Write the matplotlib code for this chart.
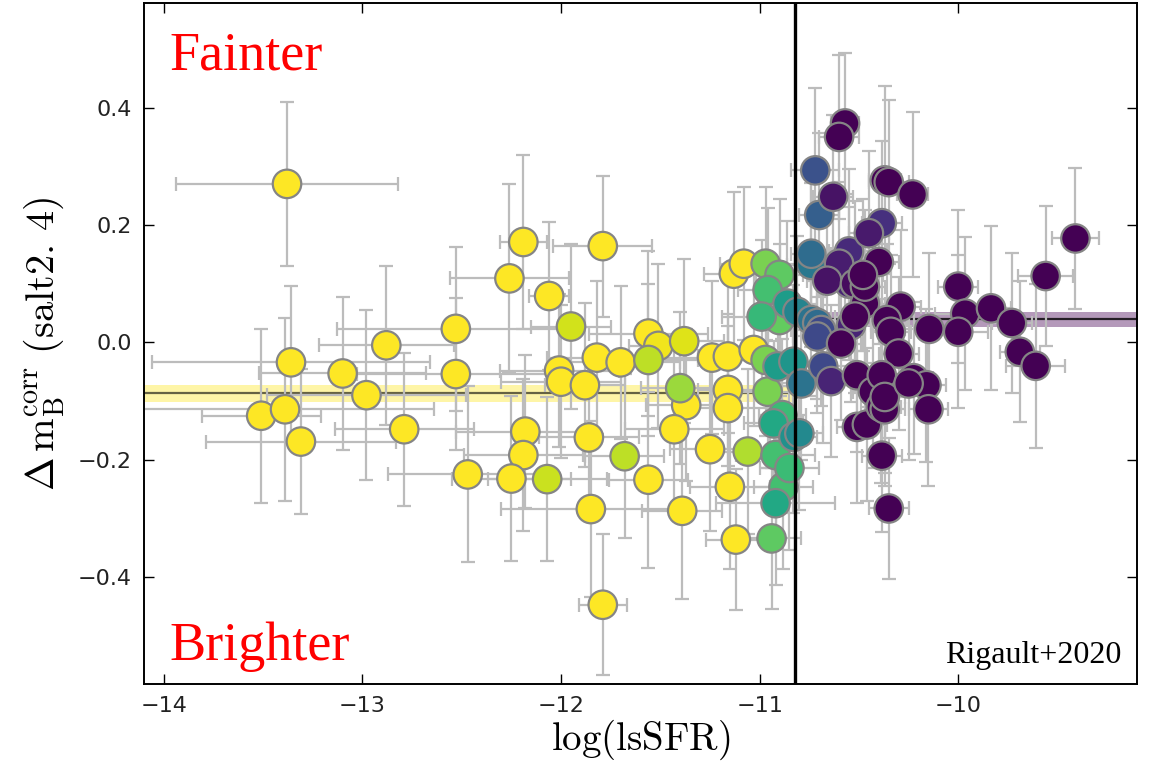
import numpy as np
import matplotlib
matplotlib.use("Agg")
import matplotlib.pyplot as plt

# ---- data ----
lssfr = [-13.38, -13.36, -13.10, -12.88, -12.98, -13.51, -13.39, -13.31, -12.79, -12.19,
         -11.79, -12.26, -12.06, -12.53, -12.53, -11.95, -12.01, -12.00, -11.88, -11.82,
         -11.70, -11.56, -11.51, -11.56, -11.38, -11.24, -11.16, -11.40, -11.37, -11.43,
         -11.25, -11.16, -11.16, -12.18, -12.19, -11.86, -11.68, -12.47, -12.25, -12.07,
         -11.56, -11.85, -11.39, -11.79, -11.15, -11.12, -11.13, -11.08, -11.03, -11.06,
         # transition
         -10.97, -10.90, -10.96, -10.99, -10.90, -10.86, -10.81, -10.74, -10.74, -10.74,
         -10.72, -10.70, -10.69, -10.97, -10.91, -10.83, -10.79, -10.68, -10.64, -10.71,
         -10.71, -10.96, -10.93, -10.885, -10.83, -10.80, -10.92, -10.85, -10.88, -10.92,
         -10.94,
         # young
         -10.63, -10.57, -10.60, -10.60, -10.55, -10.59, -10.52, -10.45, -10.385, -10.40,
         -10.47, -10.37, -10.51, -10.46, -10.385, -10.35, -10.51, -10.43, -10.39, -10.35,
         -10.23, -9.41, -9.56, -10.00, -9.965, -9.835, -9.73, -10.00, -10.146, -9.69,
         -9.61, -10.29, -10.36, -10.34, -10.30, -10.385, -10.225, -10.16, -10.15, -10.37,
         -10.55, -10.47, -10.52, -10.54, -10.37, -10.66, -10.48, -10.25]
dmb = [0.270, -0.034, -0.053, -0.005, -0.090, -0.125, -0.114, -0.169, -0.148, 0.171,
       0.164, 0.109, 0.079, 0.023, -0.054, 0.027, -0.048, -0.067, -0.073, -0.026,
       -0.034, -0.030, -0.006, 0.015, 0.002, -0.026, -0.024, -0.078, -0.107, -0.148,
       -0.182, -0.081, -0.112, -0.152, -0.192, -0.162, -0.194, -0.225, -0.232, -0.233,
       -0.234, -0.284, -0.287, -0.447, -0.246, -0.336, 0.117, 0.134, -0.013, -0.186,
       0.134, 0.115, 0.089, 0.044, 0.038, 0.066, 0.052, 0.038, 0.151, 0.132,
       0.293, 0.217, 0.021, -0.030, -0.041, -0.033, -0.070, -0.041, -0.066, 0.010,
       0.033, -0.084, -0.138, -0.124, -0.161, -0.155, -0.192, -0.214, -0.246, -0.274,
       -0.334,
       0.248, 0.373, 0.350, 0.134, 0.155, -0.002, 0.100, 0.186, 0.203, 0.137,
       0.066, 0.276, -0.144, -0.140, -0.193, -0.283, -0.056, -0.084, -0.110, 0.273,
       0.252, 0.177, 0.113, 0.095, 0.049, 0.058, 0.033, 0.018, 0.023, -0.016,
       -0.040, 0.061, 0.038, 0.018, -0.019, -0.056, -0.061, -0.073, -0.114, -0.114,
       0.100, 0.095, 0.044, 0.029, -0.093, 0.105, 0.115, -0.070]
lssfr_err = [0.56, 0.70, 0.42, 0.34, 0.50, 0.30, 0.75, 0.48, 0.35, 0.12,
             0.25, 0.30, 0.10, 0.60, 0.50, 0.20, 0.30, 0.30, 0.20, 0.25,
             0.30, 0.25, 0.15, 0.30, 0.20, 0.30, 0.15, 0.20, 0.20, 0.25,
             0.20, 0.15, 0.20, 0.35, 0.30, 0.25, 0.20, 0.40, 0.30, 0.30,
             0.20, 0.45, 0.20, 0.12, 0.20, 0.15, 0.15, 0.12, 0.10, 0.15,
             0.15, 0.12, 0.15, 0.20, 0.12, 0.15, 0.12, 0.12, 0.10, 0.12,
             0.12, 0.10, 0.15, 0.15, 0.12, 0.12, 0.15, 0.15, 0.12, 0.12,
             0.12, 0.15, 0.15, 0.12, 0.12, 0.12, 0.20, 0.15, 0.15, 0.30,
             0.15,
             0.10, 0.07, 0.10, 0.10, 0.10, 0.10, 0.10, 0.10, 0.10, 0.10,
             0.10, 0.08, 0.10, 0.10, 0.10, 0.10, 0.12, 0.10, 0.10, 0.10,
             0.08, 0.12, 0.14, 0.10, 0.15, 0.10, 0.10, 0.15, 0.12, 0.10,
             0.15, 0.10, 0.10, 0.10, 0.10, 0.10, 0.10, 0.10, 0.10, 0.10,
             0.10, 0.10, 0.10, 0.10, 0.10, 0.10, 0.10, 0.10]
dmb_err = [0.14, 0.13, 0.13, 0.135, 0.145, 0.148, 0.156, 0.123, 0.13, 0.148,
           0.12, 0.16, 0.126, 0.14, 0.13, 0.14, 0.13, 0.13, 0.14, 0.13,
           0.13, 0.13, 0.14, 0.14, 0.14, 0.13, 0.13, 0.13, 0.13, 0.14,
           0.14, 0.13, 0.14, 0.13, 0.13, 0.13, 0.14, 0.15, 0.14, 0.14,
           0.15, 0.15, 0.15, 0.12, 0.14, 0.12, 0.14, 0.13, 0.13, 0.14,
           0.13, 0.13, 0.14, 0.13, 0.13, 0.14, 0.13, 0.13, 0.14, 0.14,
           0.14, 0.14, 0.13, 0.13, 0.13, 0.13, 0.13, 0.13, 0.13, 0.13,
           0.13, 0.13, 0.14, 0.13, 0.13, 0.13, 0.14, 0.14, 0.14, 0.14,
           0.12,
           0.14, 0.12, 0.14, 0.14, 0.14, 0.13, 0.14, 0.14, 0.14, 0.14,
           0.13, 0.16, 0.13, 0.13, 0.13, 0.12, 0.13, 0.13, 0.13, 0.14,
           0.14, 0.12, 0.12, 0.13, 0.13, 0.14, 0.12, 0.13, 0.13, 0.12,
           0.14, 0.13, 0.13, 0.13, 0.13, 0.13, 0.13, 0.13, 0.13, 0.13,
           0.13, 0.13, 0.13, 0.13, 0.13, 0.13, 0.13, 0.13]
p_old = [1.0] * 15 + [0.93] + [1.0] * 5 + [0.90, 0.98, 1.0, 0.95, 1.0, 1.0, 0.85] + [1.0] * 8 + \
        [0.90, 1.0, 1.0, 0.92, 1.0, 1.0, 1.0, 1.0, 1.0, 1.0, 1.0, 1.0, 1.0, 0.88] + \
        [0.80, 0.75, 0.70, 0.67, 0.76, 0.55, 0.45, 0.38, 0.35, 0.40,
         0.25, 0.30, 0.22, 0.80, 0.55, 0.52, 0.38, 0.22, 0.10, 0.22,
         0.35, 0.80, 0.60, 0.68, 0.50, 0.47, 0.70, 0.68, 0.70, 0.60,
         0.75] + \
        [0.05, 0.0, 0.0, 0.08, 0.12, 0.0, 0.03, 0.07, 0.14, 0.0,
         0.0, 0.0, 0.0, 0.0, 0.0, 0.0, 0.0, 0.0, 0.0, 0.0,
         0.0, 0.0, 0.0, 0.0, 0.0, 0.0, 0.0, 0.0, 0.0, 0.0,
         0.0, 0.0, 0.0, 0.0, 0.0, 0.0, 0.0, 0.0, 0.0, 0.0,
         0.10, 0.0, 0.0, 0.10, 0.0, 0.05, 0.0, 0.0]

lssfr_cut = -10.82
mean_old, mean_old_err = -0.087, 0.015
mean_young, mean_young_err = 0.039, 0.012
xlim = (-14.10, -9.10)
ylim = (-0.582, 0.578)
xticks = [-14, -13, -12, -11, -10]
yticks = [-0.4, -0.2, 0.0, 0.2, 0.4]

plt.rcParams['mathtext.fontset'] = 'cm'

fig = plt.figure(figsize=(11.55, 7.72), dpi=100)
ax = fig.add_axes([0.1247, 0.114, 0.8597, 0.882])

x = np.array(lssfr); y = np.array(dmb)
xe = np.array(lssfr_err); ye = np.array(dmb_err); p = np.array(p_old)
order = np.argsort(-p, kind='stable')

ax.errorbar(x, y, xerr=xe, yerr=ye, fmt='none', ecolor='#bcbcbc',
            elinewidth=1.6, capsize=5, capthick=1.6, zorder=2)

# mean bands
ax.fill_between([xlim[0], lssfr_cut], mean_old - mean_old_err, mean_old + mean_old_err,
                color='#fde725', alpha=0.4, lw=0, zorder=1)
ax.plot([xlim[0], lssfr_cut], [mean_old, mean_old], color='k', alpha=0.6, lw=1.6, zorder=1.5)
ax.fill_between([lssfr_cut, xlim[1]], mean_young - mean_young_err, mean_young + mean_young_err,
                color='#440154', alpha=0.4, lw=0, zorder=1)
ax.plot([lssfr_cut, xlim[1]], [mean_young, mean_young], color='k', alpha=0.8, lw=1.6, zorder=1.5)

ax.scatter(x[order], y[order], c=p[order], cmap='viridis', vmin=0, vmax=1,
           s=20.5**2, edgecolors='#858585', linewidths=1.6, zorder=3)

ax.axvline(lssfr_cut, color='k', lw=2.4, zorder=4)

ax.set_xlim(*xlim)
ax.set_ylim(*ylim)
ax.set_xticks(xticks)
ax.set_yticks(yticks)
ax.tick_params(direction='in', length=7, width=1, labelsize=16, top=True, right=True,
               labelcolor='#222222', pad=9)
for s in ax.spines.values():
    s.set_linewidth(1.4)

ax.set_xlabel(r'$\log(\mathrm{lsSFR})$', fontsize=28, labelpad=1)
ax.set_ylabel(r'$\Delta\,\mathrm{m}_\mathrm{B}^\mathrm{corr}\ (\mathrm{salt2.\,4})$',
              fontsize=29, labelpad=8)

ax.text(0.026, 0.903, 'Fainter', transform=ax.transAxes, color='red',
        fontsize=39, family='Liberation Serif', va='baseline', ha='left')
ax.text(0.026, 0.035, 'Brighter', transform=ax.transAxes, color='red',
        fontsize=39, family='Liberation Serif', va='baseline', ha='left')
ax.text(0.984, 0.031, 'Rigault+2020', transform=ax.transAxes, color='black',
        fontsize=23, family='Liberation Serif', va='baseline', ha='right')

fig.savefig('out.png', dpi=100)
